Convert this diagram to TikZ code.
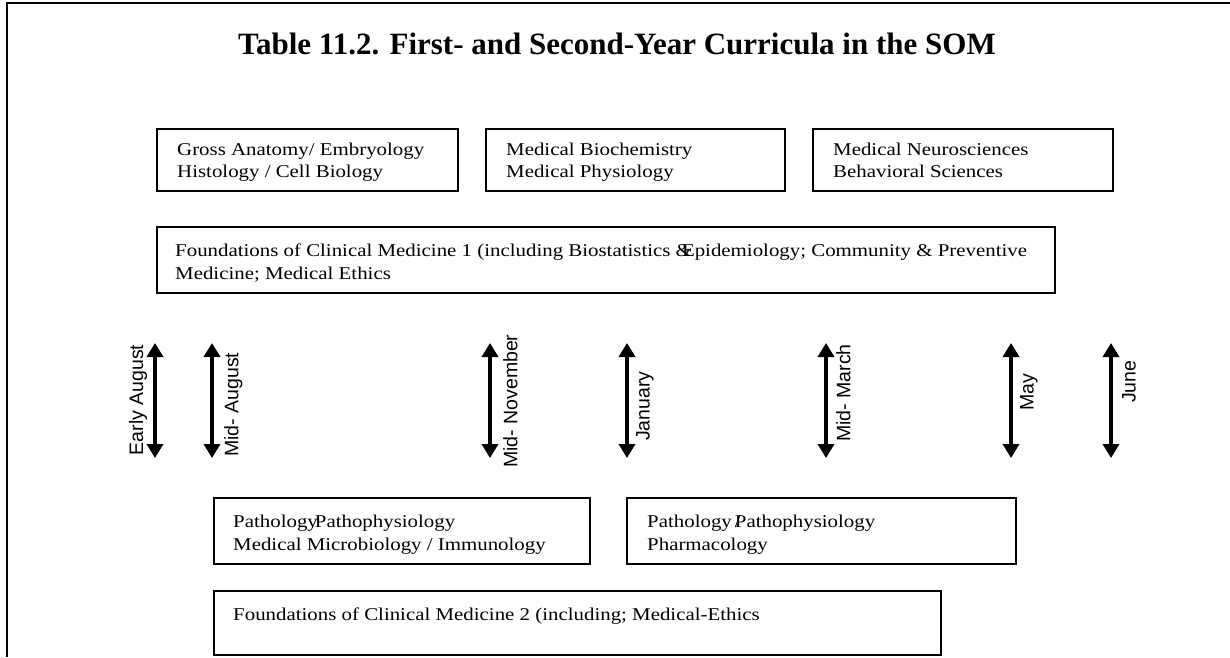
\documentclass[tikz,border=0pt]{standalone}
\usepackage{fontspec}
\setmainfont{Liberation Serif}
\setsansfont{Liberation Sans}
\newfontfamily\boxfont[FakeStretch=1.16]{Liberation Serif}
\usetikzlibrary{arrows.meta}
\tikzset{
  course/.style={draw, line width=1.5pt, anchor=north west, inner sep=0pt},
  ctext/.style={anchor=base west, font=\boxfont\fontsize{18}{22}\selectfont, inner sep=0pt},
  date/.style={line width=3.5pt, {Triangle[width=16pt,length=14pt]}-{Triangle[width=16pt,length=14pt]}},
  dlabel/.style={rotate=90, font=\sffamily\fontsize{19.5}{21}\selectfont, inner sep=0pt},
  frame/.style={line width=2.5pt}
}
\begin{document}
\begin{tikzpicture}[x=1pt,y=-1pt]
\useasboundingbox (0,0) rectangle (1230,657);
% frame
\coordinate (fb) at (7,657);
\coordinate (fc) at (7,3);
\coordinate (fr) at (1230,3);
\draw[frame] (fb) -- (fc) -- (fr);
% title
\node[font=\bfseries\fontsize{31}{34}\selectfont] (title) at (617,44) {Table 11.2. First- and Second-Year Curricula in the SOM};
% top boxes
\draw[course] (157,129) rectangle (458,191) coordinate (b1);
\node[ctext] (b1a) at (177,155) {Gross Anatomy/ Embryology};
\node[ctext] (b1b) at (177,177) {Histology / Cell Biology};
\draw[course] (486,129) rectangle (785,191) coordinate (b2);
\node[ctext] (b2a) at (506,155) {Medical Biochemistry};
\node[ctext] (b2b) at (506,177) {Medical Physiology};
\draw[course] (813,129) rectangle (1113,191) coordinate (b3);
\node[ctext] (b3a) at (833,155) {Medical Neurosciences};
\node[ctext] (b3b) at (833,177) {Behavioral Sciences};
% FCM1
\draw[course] (157,227) rectangle (1055,293) coordinate (f1);
\node[ctext] (f1a) at (175,256) {Foundations of Clinical Medicine 1 (including Biostatistics \&\hspace{-10pt}Epidemiology; Community \& Preventive};
\node[ctext] (f1b) at (175,279) {Medicine; Medical Ethics};
% date arrows
\coordinate (a1t) at (155,343); \coordinate (a1b) at (155,458);
\coordinate (a2t) at (212,343); \coordinate (a2b) at (212,458);
\coordinate (a3t) at (490,343); \coordinate (a3b) at (490,458);
\coordinate (a4t) at (627,343); \coordinate (a4b) at (627,458);
\coordinate (a5t) at (826,343); \coordinate (a5b) at (826,458);
\coordinate (a6t) at (1011,343); \coordinate (a6b) at (1011,458);
\coordinate (a7t) at (1111,343); \coordinate (a7b) at (1111,458);
\draw[date] (a1t) -- (a1b);
\draw[date] (a2t) -- (a2b);
\draw[date] (a3t) -- (a3b);
\draw[date] (a4t) -- (a4b);
\draw[date] (a5t) -- (a5b);
\draw[date] (a6t) -- (a6b);
\draw[date] (a7t) -- (a7b);
\node[dlabel] (l1) at (138,400) {Early August};
\node[dlabel, anchor=north west] (l2) at (224,457) {Mid- August};
\node[dlabel, anchor=north west] (l3) at (503,468) {Mid- November};
\node[dlabel, anchor=north west] (l4) at (636,441) {January};
\node[dlabel, anchor=north west] (l5) at (836,442) {Mid- March};
\node[dlabel, anchor=north west] (l6) at (1020,411) {May};
\node[dlabel, anchor=north west] (l7) at (1122,403) {June};
% lower boxes
\draw[course] (214,498) rectangle (590,564) coordinate (b4);
\node[ctext] (b4a) at (233,527) {Pathology\hspace{-3pt}Pathophysiology};
\node[ctext] (b4b) at (233,550) {Medical Microbiology / Immunology};
\draw[course] (627,498) rectangle (1016,564) coordinate (b5);
\node[ctext] (b5a) at (647,527) {Pathology\rlap{\,/}\,Pathophysiology};
\node[ctext] (b5b) at (647,550) {Pharmacology};
\draw[course] (214,591) rectangle (941,655) coordinate (f2);
\node[ctext] (f2a) at (233,620) {Foundations of Clinical Medicine 2 (including; Medical-Ethics};
\end{tikzpicture}
\end{document}
